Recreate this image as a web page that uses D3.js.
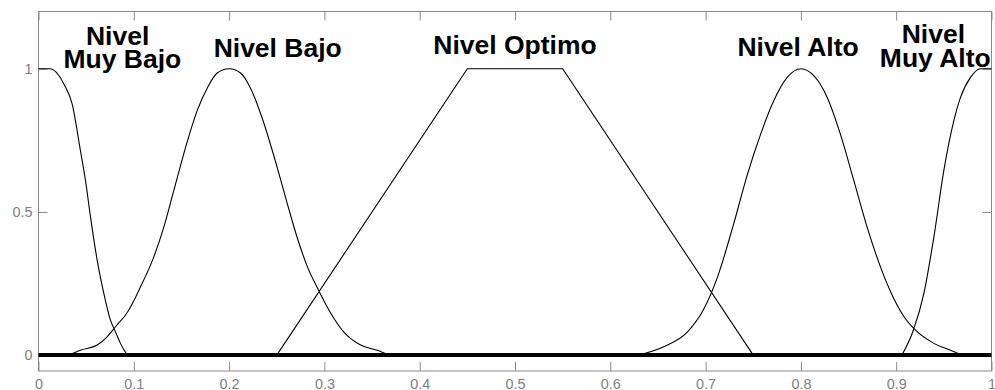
<!DOCTYPE html>
<html>
<head>
<meta charset="utf-8">
<script src="https://cdn.jsdelivr.net/npm/d3@7"></script>
<style>
  body { margin: 0; background: #fff; }
  .axis text { font-family: "Liberation Sans", Arial, sans-serif; font-size: 14.4px; fill: #808080; }
  .mf-label { font-family: "Liberation Sans", Arial, sans-serif; font-weight: bold; font-size: 26.5px; fill: #000; }
</style>
</head>
<body>
<div id="chart"></div>
<script>
// membership functions, points [x, grado]
const muyBajo = [[0, 1], [0.012, 1], [0.0266, 0.947], [0.0353, 0.877], [0.044, 0.714], [0.0493, 0.61],
  [0.0546, 0.482], [0.0616, 0.331], [0.0686, 0.215], [0.0755, 0.122], [0.0808, 0.081], [0.086, 0.041], [0.093, 0]];
const bajo = [[0.0318, 0], [0.044, 0.017], [0.0616, 0.035], [0.072, 0.064], [0.0808, 0.099], [0.093, 0.148],
  [0.107, 0.238], [0.121, 0.343], [0.1315, 0.447], [0.142, 0.575], [0.156, 0.745], [0.1665, 0.854],
  [0.177, 0.932], [0.1875, 0.985], [0.2, 1], [0.212, 0.985], [0.2225, 0.932], [0.236, 0.815],
  [0.2505, 0.655], [0.261, 0.53], [0.2715, 0.41], [0.282, 0.31], [0.294, 0.226], [0.3064, 0.148],
  [0.3204, 0.08], [0.338, 0.035], [0.3554, 0.017], [0.368, 0]];
const optimo = [[0.25, 0], [0.45, 1], [0.55, 1], [0.75, 0]];
const alto = [[0.63, 0], [0.656, 0.029], [0.681, 0.081], [0.698, 0.16], [0.712, 0.268], [0.7296, 0.46],
  [0.7436, 0.628], [0.7576, 0.77], [0.7716, 0.889], [0.7856, 0.97], [0.8, 1], [0.814, 0.974],
  [0.8276, 0.9], [0.8416, 0.77], [0.8555, 0.61], [0.8695, 0.447], [0.8835, 0.308], [0.894, 0.222],
  [0.908, 0.135], [0.9203, 0.087], [0.9395, 0.041], [0.957, 0.017], [0.969, 0]];
const muyAlto = [[0.906, 0], [0.918, 0.087], [0.929, 0.215], [0.9395, 0.412], [0.95, 0.645],
  [0.9605, 0.819], [0.9675, 0.9], [0.978, 0.97], [0.9885, 1], [1, 1]];

const xTicks = [0, 0.1, 0.2, 0.3, 0.4, 0.5, 0.6, 0.7, 0.8, 0.9, 1];
const yTicks = [0, 0.5, 1];

// labels: text lines with the x of each line, y of the last line
const labels = [
  [["Nivel", "Muy Bajo"], [0.083, 0.088], 1.003],
  [["Nivel Bajo"], [0.251], 1.042],
  [["Nivel Optimo"], [0.5], 1.052],
  [["Nivel Alto"], [0.797], 1.045],
  [["Nivel", "Muy Alto"], [0.939, 0.941], 1.007]
];

const width = 995, height = 390;
const margin = {top: 11.5, right: 3.5, bottom: 19, left: 38.5};
const w = width - margin.left - margin.right,
      h = height - margin.top - margin.bottom;

const svg = d3.select("#chart").append("svg")
  .attr("width", width)
  .attr("height", height)
  .append("g")
  .attr("transform", `translate(${margin.left},${margin.top})`);

const x = d3.scaleLinear([0, 1], [0, w]);
const y = d3.scaleLinear([-0.0555, 1.2], [h, 0]);

// box
svg.append("rect")
  .attr("width", w).attr("height", h)
  .attr("fill", "#fff").attr("stroke", "#8a8a8a").attr("stroke-width", 1);

// axes with inward ticks
const tick = 9;
svg.append("g").attr("class", "axis")
  .attr("transform", `translate(0,${h})`)
  .call(d3.axisBottom(x).tickValues(xTicks).tickFormat(d3.format("")).tickSizeInner(-tick).tickSizeOuter(0).tickPadding(8));
svg.append("g").attr("class", "axis")
  .call(d3.axisTop(x).tickValues(xTicks).tickFormat("").tickSizeInner(-tick).tickSizeOuter(0));
svg.append("g").attr("class", "axis")
  .call(d3.axisLeft(y).tickValues(yTicks).tickFormat(d3.format("")).tickSizeInner(-tick).tickSizeOuter(0).tickPadding(6));
svg.append("g").attr("class", "axis")
  .attr("transform", `translate(${w},0)`)
  .call(d3.axisRight(y).tickValues(yTicks).tickFormat("").tickSizeInner(-tick).tickSizeOuter(0));

svg.selectAll(".axis .domain").remove();
svg.selectAll(".axis line").attr("stroke", "#8a8a8a");

// thick zero line
svg.append("line")
  .attr("x1", x(0)).attr("x2", x(1))
  .attr("y1", y(0)).attr("y2", y(0))
  .attr("stroke", "#000").attr("stroke-width", 4);

// curves
const line = d3.line()
  .x(d => x(d[0]))
  .y(d => y(d[1]))
  .curve(d3.curveMonotoneX);

[muyBajo, bajo, alto, muyAlto].forEach(s => {
  svg.append("path").datum(s)
    .attr("d", line)
    .attr("fill", "none").attr("stroke", "#000").attr("stroke-width", 1.1);
});
svg.append("path").datum(optimo)
  .attr("d", line.curve(d3.curveLinear))
  .attr("fill", "none").attr("stroke", "#000").attr("stroke-width", 1.1);

// names
labels.forEach(([lines, xs, ly]) => {
  const t = svg.append("text").attr("class", "mf-label")
    .attr("text-anchor", "middle")
    .attr("y", y(ly));
  lines.forEach((s, i) => {
    t.append("tspan").attr("x", x(xs[i]))
      .attr("dy", i === 0 ? `${-(lines.length - 1) * 0.88}em` : "0.88em")
      .text(s);
  });
});
</script>
</body>
</html>
